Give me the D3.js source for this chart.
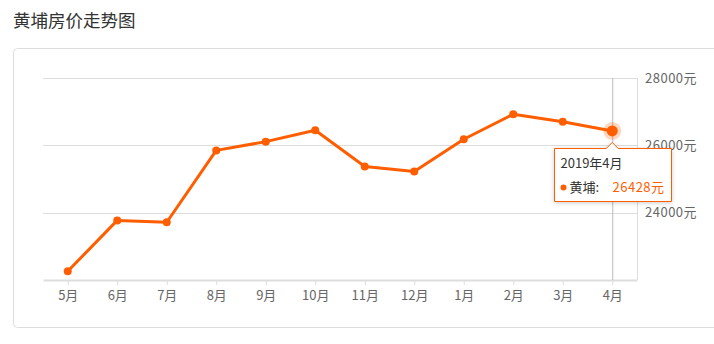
<!DOCTYPE html>
<html>
<head>
<meta charset="utf-8">
<script src="https://cdn.jsdelivr.net/npm/d3@7"></script>
<style>
  body { margin: 0; background: #fff; font-family: "Noto Sans CJK SC", "Noto Sans", sans-serif; }
</style>
</head>
<body>
<div id="chart"></div>
<script>
// months and prices (元/㎡)
const months = ['5月', '6月', '7月', '8月', '9月', '10月', '11月', '12月', '1月', '2月', '3月', '4月'];
const prices = [22260, 23770, 23715, 25850, 26110, 26450, 25370, 25220, 26180, 26925, 26700, 26428];
const yTicks = [24000, 26000, 28000];
const district = '黄埔';
const hoverLabel = '2019年4月';

const width = 714, height = 344;
const color = '#ff5e00';

const svg = d3.select('#chart').append('svg')
  .attr('width', width)
  .attr('height', height);

// title
svg.append('text')
  .attr('x', 13).attr('y', 27)
  .attr('font-size', 17.5).attr('fill', '#333')
  .text('黄埔房价走势图');

// card
svg.append('rect')
  .attr('x', 13.5).attr('y', 48.5)
  .attr('width', 720).attr('height', 279)
  .attr('rx', 4)
  .attr('fill', '#fff').attr('stroke', '#ddd');

const x = d3.scalePoint()
  .domain(months)
  .range([43, 637])
  .padding(0.5);

const y = d3.scaleLinear()
  .domain([22000, 28000])
  .range([280, 78]);

// grid lines
svg.append('g')
  .selectAll('line')
  .data(yTicks)
  .join('line')
  .attr('x1', 43).attr('x2', 637)
  .attr('y1', d => Math.round(y(d)) + 0.5)
  .attr('y2', d => Math.round(y(d)) + 0.5)
  .attr('stroke', '#ddd');

// right edge
svg.append('line')
  .attr('x1', 637.5).attr('x2', 637.5)
  .attr('y1', y(28000)).attr('y2', y(22000))
  .attr('stroke', '#ddd');

// y labels on the right
svg.append('g')
  .selectAll('text')
  .data(yTicks)
  .join('text')
  .attr('x', 645)
  .attr('y', d => y(d))
  .attr('dy', '0.35em')
  .attr('font-size', 13).attr('fill', '#666')
  .attr('letter-spacing', 0.5)
  .text(d => d + '元');

// x axis
const xAxis = svg.append('g')
  .attr('transform', `translate(0,${y(22000)})`)
  .call(d3.axisBottom(x).tickSize(5).tickSizeOuter(0).tickPadding(6));
xAxis.select('.domain').attr('stroke', '#ddd').attr('stroke-width', 2);
xAxis.selectAll('.tick line').attr('stroke', '#ddd');
xAxis.selectAll('.tick text')
  .attr('font-size', 13).attr('fill', '#666')
  .attr('font-family', '"Noto Sans CJK SC", sans-serif');

// crosshair at last month
const last = months.length - 1;
const hx = x(months[last]);
svg.append('line')
  .attr('x1', hx + 0.5).attr('x2', hx + 0.5)
  .attr('y1', y(28000)).attr('y2', y(22000))
  .attr('stroke', '#bbb');

// line
const line = d3.line()
  .x((d, i) => x(months[i]))
  .y(d => y(d));

svg.append('path')
  .datum(prices)
  .attr('d', line)
  .attr('fill', 'none')
  .attr('stroke', color)
  .attr('stroke-width', 3)
  .attr('stroke-linejoin', 'round');

svg.append('g')
  .selectAll('circle')
  .data(prices.slice(0, last))
  .join('circle')
  .attr('cx', (d, i) => x(months[i]))
  .attr('cy', d => y(d))
  .attr('r', 4)
  .attr('fill', color);

// highlighted point
svg.append('circle')
  .attr('cx', hx).attr('cy', y(prices[last]))
  .attr('r', 9)
  .attr('fill', color).attr('fill-opacity', 0.25);
svg.append('circle')
  .attr('cx', hx).attr('cy', y(prices[last]))
  .attr('r', 5.5)
  .attr('fill', color);

// tooltip
const tx = 554.5, ty = 148.5, tw = 117, th = 53;
const tip = svg.append('g');
tip.append('path')
  .attr('d', `M${tx},${ty} H${hx - 6} L${hx},${ty - 6} L${hx + 6},${ty} H${tx + tw} V${ty + th} H${tx} Z`)
  .attr('fill', '#fff')
  .attr('stroke', color)
  .style('filter', 'drop-shadow(0 1px 2px rgba(0,0,0,0.2))');
tip.append('text')
  .attr('x', tx + 6).attr('y', ty + 19)
  .attr('font-size', 13).attr('fill', '#333')
  .text(hoverLabel);
tip.append('circle')
  .attr('cx', tx + 9).attr('cy', ty + 39)
  .attr('r', 3).attr('fill', color);
tip.append('text')
  .attr('x', tx + 15).attr('y', ty + 43)
  .attr('font-size', 13).attr('fill', '#333')
  .text(district + ':');
tip.append('text')
  .attr('x', tx + 58).attr('y', ty + 43)
  .attr('font-size', 13).attr('fill', color)
  .attr('letter-spacing', 0.5)
  .text(prices[last] + '元');
</script>
</body>
</html>
